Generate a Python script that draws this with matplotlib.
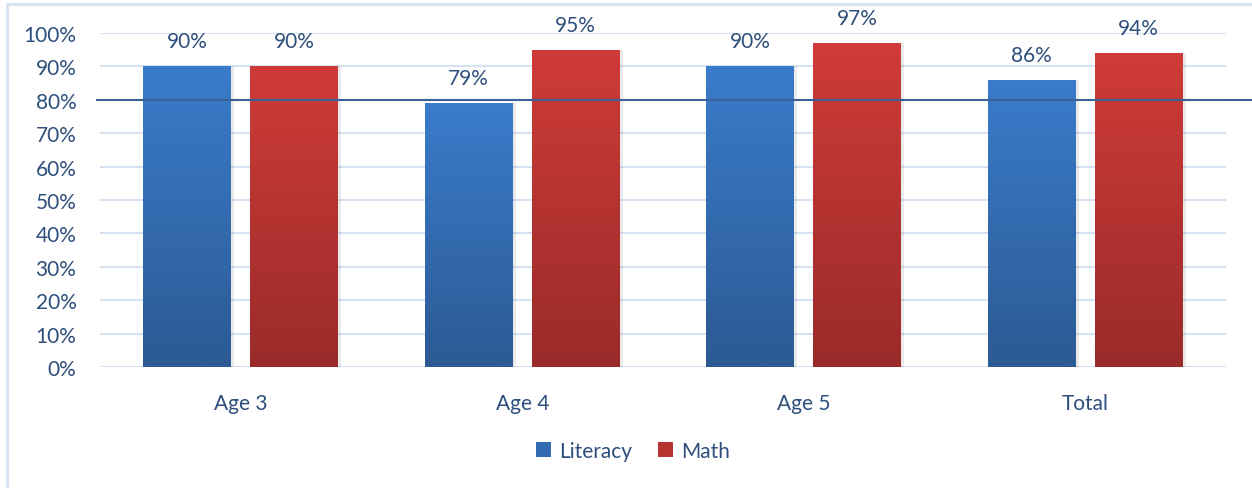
import matplotlib
matplotlib.use('Agg')
import matplotlib.pyplot as plt
from matplotlib.colors import LinearSegmentedColormap
from matplotlib.patches import Rectangle
import numpy as np

# Share of children meeting expectations, by age group
categories = ['Age 3', 'Age 4', 'Age 5', 'Total']
literacy = [90, 79, 90, 86]
math_scores = [90, 95, 97, 94]
target = 80

plt.rcParams['font.family'] = ['Lato', 'DejaVu Sans']
text_color = '#2E4F7C'
fsize = 15

fig = plt.figure(figsize=(12.52, 4.89), dpi=100)
ax = fig.add_axes([100 / 1252, 1 - 368 / 489, 1126 / 1252, 334 / 489])

# outer chart frame
fig.patches.append(Rectangle((7 / 1252, -0.1), 1.2, (489 - 5) / 489 + 0.1,
                             transform=fig.transFigure, fill=False,
                             edgecolor='#D5E2F2', linewidth=2))

blue_map = LinearSegmentedColormap.from_list('lit', ['#2C5A94', '#3A7CCB'])
red_map = LinearSegmentedColormap.from_list('mat', ['#9A2B2A', '#CF3B38'])

x = np.arange(len(categories))
width = 0.3125
offset = 0.19


def gradient_bars(positions, values, cmap, label):
    bars = ax.bar(positions, values, width, color=cmap(0.5), label=label, zorder=3)
    grad = np.linspace(0, 1, 256).reshape(-1, 1)
    for b in bars:
        bx, by = b.get_x(), b.get_y()
        bw, bh = b.get_width(), b.get_height()
        # soft shadow behind the bar
        ax.add_patch(Rectangle((bx + 0.004, by - 0.6), bw + 0.006, bh + 0.6,
                               facecolor='#000000', alpha=0.08, zorder=2,
                               edgecolor='none'))
        im = ax.imshow(grad, cmap=cmap, aspect='auto', origin='lower',
                       extent=[bx, bx + bw, by, by + bh], zorder=3.5)
        im.set_clip_path(b)
    return bars


gradient_bars(x - offset, literacy, blue_map, 'Literacy')
gradient_bars(x + offset, math_scores, red_map, 'Math')

for xi, v in zip(x - offset, literacy):
    ax.text(xi, v + 4.5, f'{v}%', ha='center', va='bottom', fontsize=fsize, color=text_color)
for xi, v in zip(x + offset, math_scores):
    ax.text(xi, v + 4.5, f'{v}%', ha='center', va='bottom', fontsize=fsize, color=text_color)

# 80% benchmark line
ax.plot([-0.51, 3.59], [target, target], color='#3B6296', linewidth=1.5,
        clip_on=False, zorder=5)

ax.set_xlim(-0.5, 3.5)
ax.set_ylim(0, 100)
ax.set_yticks(range(0, 101, 10))
ax.set_yticklabels([f'{t}%' for t in range(0, 101, 10)])
ax.set_xticks(x)
ax.set_xticklabels(categories)
ax.tick_params(axis='both', length=0, labelsize=fsize, labelcolor=text_color)
ax.tick_params(axis='y', pad=17)
ax.tick_params(axis='x', pad=19)
ax.yaxis.grid(True, color='#D5E2F2', linewidth=1.5, zorder=0)
ax.set_axisbelow(True)
for s in ax.spines.values():
    s.set_visible(False)

leg = fig.legend(loc='center', bbox_to_anchor=(633 / 1252, 1 - 452 / 489), ncol=2,
                 frameon=False, fontsize=fsize, handlelength=0.75, handleheight=0.75,
                 handletextpad=0.4, columnspacing=1.2)
for t in leg.get_texts():
    t.set_color(text_color)

fig.savefig('out.png', dpi=100, facecolor='white')
